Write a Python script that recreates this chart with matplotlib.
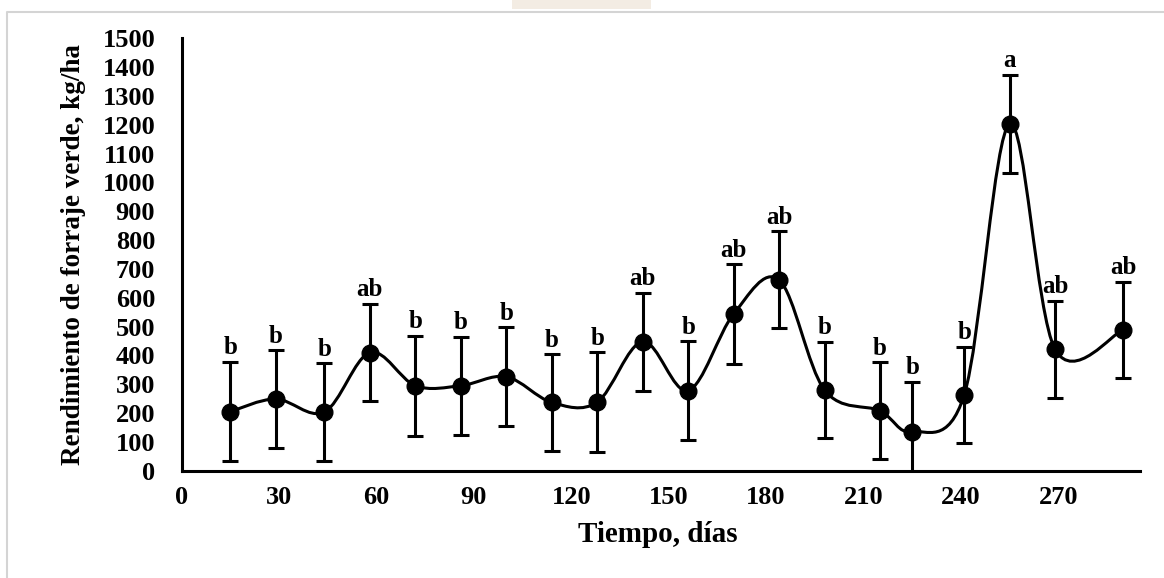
import numpy as np
import matplotlib.pyplot as plt
from matplotlib.path import Path
from matplotlib.patches import PathPatch, Rectangle
from matplotlib.lines import Line2D

# datos
dias = [15, 29, 44, 58, 72, 86, 100, 114, 128, 142, 156, 170, 184, 198, 215, 225, 241, 255, 269, 290]
rendimiento = [205, 249, 204, 410, 295, 295, 326, 237, 238, 448, 278, 544, 662, 280, 208, 135, 263, 1203, 421, 489]
error = [173, 170, 169, 169, 174, 170, 171, 168, 173, 170, 172, 173, 168, 168, 168, 174, 167, 171, 169, 167]
letras = ['b', 'b', 'b', 'ab', 'b', 'b', 'b', 'b', 'b', 'ab', 'b', 'ab', 'ab', 'b', 'b', 'b', 'b', 'a', 'ab', 'ab']
xticks = [0, 30, 60, 90, 120, 150, 180, 210, 240, 270]
yticks = list(range(0, 1600, 100))

plt.rcParams['font.family'] = ['Liberation Serif', 'DejaVu Serif']
plt.rcParams['font.weight'] = 'bold'

fig = plt.figure(figsize=(11.64, 5.78), dpi=100)
ax = fig.add_axes([0.156, 0.1856, 0.823, 0.748])

# linea suavizada (bezier tipo Excel) a traves de los puntos
x = np.array(dias, dtype=float)
y = np.array(rendimiento, dtype=float)
verts = [(x[0], y[0])]
codes = [Path.MOVETO]
n = len(x)
for i in range(n - 1):
    a = max(i - 1, 0)
    d = min(i + 2, n - 1)
    c1 = (x[i] + (x[i + 1] - x[a]) / 6, y[i] + (y[i + 1] - y[a]) / 6)
    c2 = (x[i + 1] - (x[d] - x[i]) / 6, y[i + 1] - (y[d] - y[i]) / 6)
    verts += [c1, c2, (x[i + 1], y[i + 1])]
    codes += [Path.CURVE4] * 3
ax.add_patch(PathPatch(Path(verts, codes), fill=False, lw=2.2, edgecolor='black', zorder=2))

ax.errorbar(dias, rendimiento, yerr=error, fmt='o', color='black', ms=12,
            elinewidth=2.2, capsize=5.5, capthick=2.2, zorder=3)

for xi, yi, e, l in zip(dias, rendimiento, error, letras):
    ax.annotate(l, (xi, yi + e), xytext=(0, 10), textcoords='offset points',
                ha='center', va='center', fontsize=18, fontweight='bold',
                annotation_clip=False)

ax.set_xlim(0, 295)
ax.set_ylim(0, 1500)
ax.set_xticks(xticks)
ax.set_yticks(yticks)
ax.tick_params(axis='both', length=0, labelsize=19)
ax.tick_params(axis='y', pad=19)
ax.tick_params(axis='x', pad=11)
for s in ['top', 'right']:
    ax.spines[s].set_visible(False)
for s in ['left', 'bottom']:
    ax.spines[s].set_linewidth(2.2)

ax.set_ylabel('Rendimiento de forraje verde, kg/ha', fontsize=19.5, fontweight='bold')
ax.yaxis.set_label_coords(-0.10, 0.5)
ax.set_xlabel('Tiempo, días', fontsize=21, fontweight='bold')
ax.xaxis.set_label_coords(0.497, -0.116)

# marco gris y recuadro claro de la imagen
fig.add_artist(Line2D([0.006, 0.006, 1.0], [0.0, 0.979, 0.979], color='#d4d4d4', lw=1.5))
fig.add_artist(Rectangle((0.44, 0.9844), 0.1194, 0.0156, color='#f3ece3', lw=0))

fig.savefig('out.png', dpi=100)
